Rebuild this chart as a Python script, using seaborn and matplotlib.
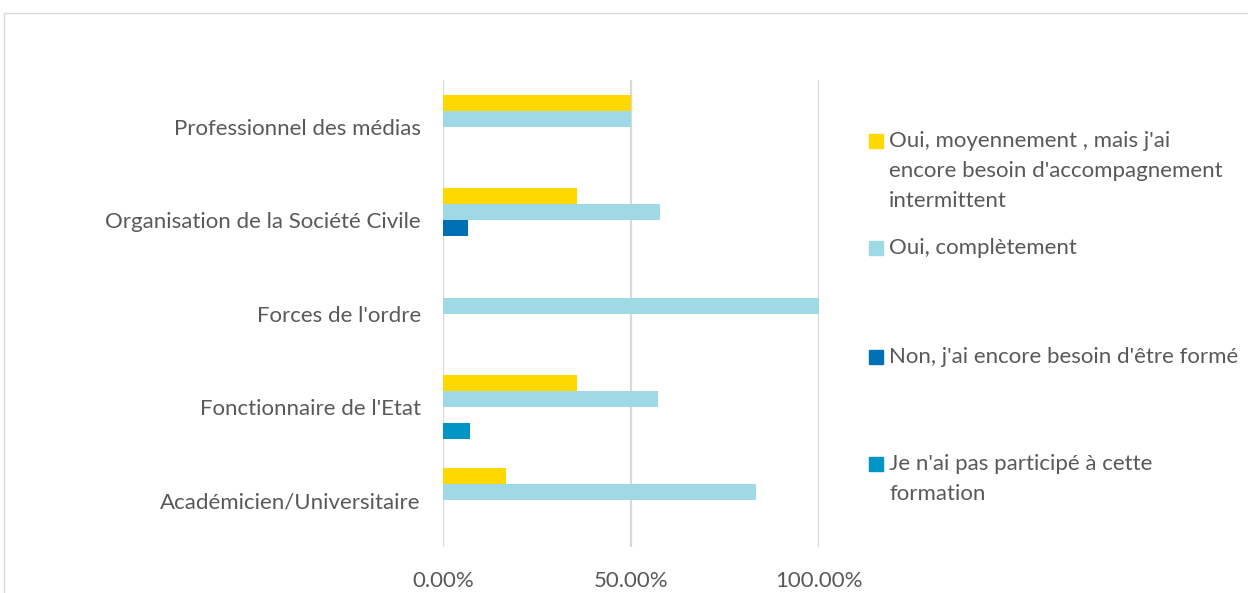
import numpy as np
import pandas as pd
import seaborn as sns
import matplotlib.pyplot as plt
from matplotlib.patches import Rectangle

sns.set_theme(style="white")
plt.rcParams['font.family'] = ['Lato', 'DejaVu Sans']

# categories, top to bottom
categories = ["Professionnel des médias", "Organisation de la Société Civile",
              "Forces de l'ordre", "Fonctionnaire de l'Etat",
              "Académicien/Universitaire"]
series = ["Oui, moyennement , mais j'ai\nencore besoin d'accompagnement\nintermittent",
          "Oui, complètement",
          "Non, j'ai encore besoin d'être formé",
          "Je n'ai pas participé à cette\nformation"]
colors = ["#FFD800", "#A0D9E6", "#0070B4", "#0095C5"]

# values in % per series (same order as categories)
oui_moyen = [50.0, 35.7, 0.0, 35.7, 16.7]
oui_complet = [50.0, 57.8, 100.0, 57.1, 83.3]
non_forme = [0.0, 6.7, 0.0, 0.0, 0.0]
pas_participe = [0.0, 0.0, 0.0, 7.1, 0.0]

df = pd.DataFrame({"cat": categories * 4,
                   "serie": np.repeat(series, len(categories)),
                   "val": oui_moyen + oui_complet + non_forme + pas_participe})

fig = plt.figure(figsize=(12.48, 5.93), dpi=100)
ax = fig.add_axes([443/1248, 1-547/593, (819-443)/1248, (547-80)/593])

sns.barplot(data=df, x="val", y="cat", hue="serie", order=categories,
            hue_order=series, palette=colors, orient="h", width=0.685,
            linewidth=0, saturation=1, errorbar=None, legend=False, ax=ax)

ax.set_xlim(0, 100)
ax.set_xticks([0, 50, 100])
ax.set_xticklabels(["0.00%", "50.00%", "100.00%"])
ax.set_xlabel("")
ax.set_ylabel("")
ax.grid(axis="x", color="#D9D9D9", linewidth=1.6)
ax.set_axisbelow(True)
for s in ax.spines.values():
    s.set_visible(False)
ax.tick_params(axis="y", length=0, pad=16, labelsize=16, labelcolor="#595959")
ax.tick_params(axis="x", length=0, pad=17, labelsize=16, labelcolor="#595959")

# legend drawn by hand, markers aligned with the first text line
leg_y = [141, 248, 357, 464]
for lab, col, yy in zip(series, colors, leg_y):
    fig.patches.append(Rectangle((869/1248, 1-(yy+7)/593), 14/1248, 14/593,
                                 transform=fig.transFigure, color=col))
    fig.text(889/1248, 1-(yy-10)/593, lab, va="top", ha="left", fontsize=16,
             color="#595959", linespacing=1.62)

# outer chart frame
fig.patches.append(Rectangle((4/1248, -0.1), 1.2, 1-13/593+0.1,
                             transform=fig.transFigure, fill=False,
                             edgecolor="#D9D9D9", linewidth=1))

fig.savefig("out.png", dpi=100)
